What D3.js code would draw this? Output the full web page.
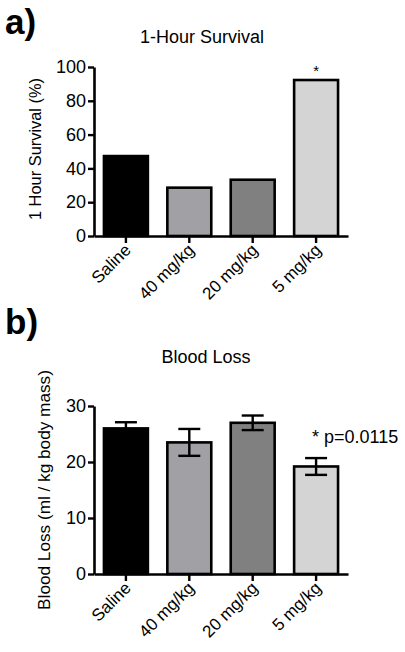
<!DOCTYPE html>
<html><head><meta charset="utf-8">
<script src="https://cdn.jsdelivr.net/npm/d3@7"></script>
<style>
html,body{margin:0;padding:0;background:#fff;}
svg{display:block;font-family:"Liberation Sans",Arial,sans-serif;}
</style></head>
<body><svg id="c" width="405" height="652"></svg>
<script>
const categories = ["Saline", "40 mg/kg", "20 mg/kg", "5 mg/kg"];
const barColors = ["#000000", "#a0a0a5", "#808080", "#d4d4d4"];
const survivalValues = [47.3, 28.6, 33.3, 92.3];
const survivalTicks = [0, 20, 40, 60, 80, 100];
const bloodLossValues = [26.0, 23.5, 27.0, 19.2];
const bloodLossErrors = [1.1, 2.4, 1.3, 1.5];
const bloodLossTicks = [0, 10, 20, 30];

const svg = d3.select("#c");

function panel(opts) {
  const g = svg.append("g");
  const x = d3.scaleBand().domain(categories).range([94, 348])
    .paddingInner(0.307).paddingOuter(0.157);
  const y = d3.scaleLinear().domain(opts.domain).range(opts.yRange);

  // bars
  g.selectAll("rect.bar").data(opts.values).join("rect")
    .attr("x", (d, i) => x(categories[i]))
    .attr("y", d => y(d))
    .attr("width", x.bandwidth())
    .attr("height", d => y(0) - y(d))
    .attr("fill", (d, i) => barColors[i])
    .attr("stroke", "#000").attr("stroke-width", 2.6);

  // error bars (upper & lower)
  if (opts.errors) {
    const cap = x.bandwidth() * 0.5;
    opts.values.forEach((v, i) => {
      const cx = x(categories[i]) + x.bandwidth() / 2;
      const e = opts.errors[i];
      const col = "#000";
      g.append("line").attr("x1", cx).attr("x2", cx)
        .attr("y1", y(v - e)).attr("y2", y(v + e))
        .attr("stroke", col).attr("stroke-width", 2.4);
      [v + e, v - e].forEach(t => {
        g.append("line").attr("x1", cx - cap / 2).attr("x2", cx + cap / 2)
          .attr("y1", y(t)).attr("y2", y(t))
          .attr("stroke", col).attr("stroke-width", 2.4);
      });
    });
  }

  // y axis
  const ya = g.append("g").attr("transform", "translate(94,0)")
    .call(d3.axisLeft(y).tickValues(opts.ticks).tickSize(6).tickPadding(2).tickSizeOuter(0));
  ya.select(".domain").attr("stroke-width", 2.6);
  ya.selectAll(".tick line").attr("stroke-width", 2.4);
  ya.selectAll(".tick text").attr("font-size", 18).attr("fill", "#000")
    .attr("font-family", "Liberation Sans, Arial, sans-serif");

  // x axis
  const xa = g.append("g").attr("transform", `translate(0,${y(0)})`)
    .call(d3.axisBottom(x).tickSize(7).tickSizeOuter(0));
  xa.select(".domain").attr("stroke-width", 2.6);
  xa.selectAll(".tick line").attr("stroke-width", 2.4);
  xa.selectAll(".tick text").attr("font-size", 17).attr("fill", "#000")
    .attr("font-family", "Liberation Sans, Arial, sans-serif")
    .attr("text-anchor", "end")
    .attr("dy", null).attr("y", 0)
    .attr("transform", "translate(6,15) rotate(-45)");

  // title
  g.append("text").attr("x", opts.titleX).attr("y", opts.titleY)
    .attr("text-anchor", "middle").attr("font-size", 18).text(opts.title);
  // y label
  g.append("text")
    .attr("transform", `translate(${opts.ylabX},${opts.ylabY}) rotate(-90)`)
    .attr("text-anchor", "middle").attr("font-size", opts.ylabSize).text(opts.ylab);
  // panel letter
  g.append("text").attr("x", 5).attr("y", opts.letterY)
    .attr("font-size", 35).attr("font-weight", "bold").text(opts.letter);
  return {g, x, y};
}

const a = panel({
  values: survivalValues, domain: [0, 100], yRange: [236, 67], ticks: survivalTicks,
  title: "1-Hour Survival", titleX: 202, titleY: 43,
  ylab: "1 Hour Survival (%)", ylabX: 41, ylabY: 149, ylabSize: 16.4,
  letter: "a)", letterY: 34
});
a.g.append("text")
  .attr("x", a.x(categories[3]) + a.x.bandwidth() / 2).attr("y", 76)
  .attr("text-anchor", "middle").attr("font-size", 15).text("*");

const b = panel({
  values: bloodLossValues, errors: bloodLossErrors, domain: [0, 30], yRange: [574, 406],
  ticks: bloodLossTicks,
  title: "Blood Loss", titleX: 206, titleY: 363,
  ylab: "Blood Loss (ml / kg body mass)", ylabX: 50, ylabY: 490, ylabSize: 17.2,
  letter: "b)", letterY: 334
});
b.g.append("text").attr("x", 312).attr("y", 443).attr("font-size", 18).text("* p=0.0115");
</script></body></html>
